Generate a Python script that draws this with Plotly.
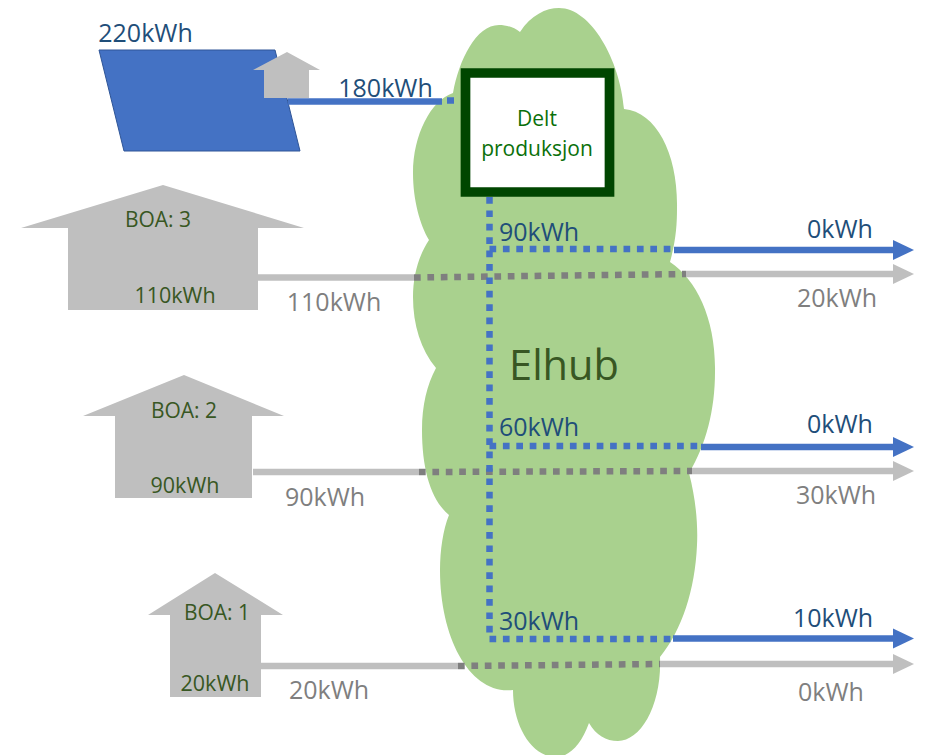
import plotly.graph_objects as go

BLUE = "#4472C4"
GREY = "#BFBFBF"
DOT_GREY = "#7F7F7F"
NAVY = "#1F4E79"
DGREEN = "#385723"
MID_GREY = "#7F7F7F"
BOX_TEXT = "#0A700A"

# text labels
label_text = ["220kWh", "180kWh", "BOA: 3", "110kWh", "110kWh", "BOA: 2", "90kWh", "90kWh",
              "BOA: 1", "20kWh", "20kWh", "90kWh", "0kWh", "20kWh", "60kWh", "0kWh", "30kWh",
              "30kWh", "10kWh", "0kWh", "Delt", "produksjon", "Elhub"]
label_x = [145.5, 385.5, 158, 175, 334, 184, 185, 325, 217, 215, 329, 539, 840, 837, 539, 840, 836, 539, 833, 831, 537, 537, 564]
label_y = [36, 91, 222, 298, 305, 413, 488, 500, 615, 686, 693, 235, 232, 301, 430, 427, 498, 624, 621, 695, 121, 151, 370]
label_color = [NAVY, NAVY, DGREEN, DGREEN, MID_GREY, DGREEN, DGREEN, MID_GREY, DGREEN, DGREEN, MID_GREY,
               NAVY, NAVY, MID_GREY, NAVY, NAVY, MID_GREY, NAVY, NAVY, MID_GREY, BOX_TEXT, BOX_TEXT, DGREEN]
label_size = [25, 25, 21, 21.5, 25, 21, 21.5, 25, 21, 21.5, 25, 25, 25, 25, 25, 25, 25, 25, 25, 25, 21, 21, 41.5]

# houses: apex x, apex y, eave left, eave right, eave y, body left, body right, bottom
houses = [
    (287, 52, 253, 320, 70, 264, 309, 98),
    (163, 185, 21, 304, 228, 68, 258, 310),
    (184, 375, 83, 284, 416, 115, 252, 498),
    (215, 573, 148, 283, 615, 170, 261, 697),
]
panel_x = [99, 275, 300, 124, 99]
panel_y = [50, 50, 151, 151, 50]

# grey feed-in: house edge, dotted start, dotted end, y at left, y at dotted end
grey_start = [258, 253, 261]
grey_dot_start = [414, 419, 458]
grey_dot_end = [686, 692, 660]
grey_y_left = [277.5, 472, 666]
grey_y_right = [274, 471, 664]

# blue branches
blue_y = [249, 446, 639]
blue_arrow_y = [250, 447, 638.5]
blue_dot_end = [674, 701, 673]
blue_x = 489.5
blue_top = 197
arrow_tip = 914
arrow_base = 893

cloud_path = (
    "M520,32 C531,15 546,8 559,8 C591,8 620,60 624,109 "
    "C657,112 678,155 677,208 C677,225 676,240 670,262 "
    "C697,280 716,320 715,372 C715,410 706,445 689,473 "
    "C696,500 698,525 697,545 C695,590 682,630 660,657 "
    "C662,705 641,741 618,741 C606,741 596,735 589,723 "
    "C581,745 569,757 556,757 C531,757 513,725 513,690 "
    "C471,695 440,640 440,570 C440,550 443,530 449,515 "
    "C431,500 422,470 422,430 C422,405 427,385 436,368 "
    "C421,350 413,325 413,297 C413,275 419,255 429,240 "
    "C420,225 413,200 413,173 C413,135 431,100 453,93 "
    "C459,60 476,25 499,25 C506,25 514,27 520,32 Z"
)

fig = go.Figure()

def poly(xs, ys, fill, line=None):
    fig.add_trace(go.Scatter(x=xs, y=ys, mode="lines", fill="toself", fillcolor=fill,
                             line=dict(color=line or fill, width=1 if line else 0), hoverinfo="skip"))

def seg(xs, ys, color, width=6.5, dash=None):
    fig.add_trace(go.Scatter(x=xs, y=ys, mode="lines", hoverinfo="skip",
                             line=dict(color=color, width=width, dash=dash)))

DOTS = "6.7px,6.7px"

poly(panel_x, panel_y, BLUE, "#2F5597")
seg([288, 442], [101.5, 101.5], BLUE)
seg([447, 454], [100.5, 100.5], BLUE)

for ax, ay, el, er, ey, bl, br, bot in houses:
    poly([ax, er, br, br, bl, bl, el, ax], [ay, ey, ey, bot, bot, ey, ey, ay], GREY)

for i in range(3):
    seg([grey_start[i], grey_dot_start[i]], [grey_y_left[i]] * 2, GREY)
    seg([grey_dot_end[i], arrow_base], [grey_y_right[i]] * 2, GREY)
    poly([arrow_base, arrow_tip, arrow_base, arrow_base],
         [grey_y_right[i] - 10, grey_y_right[i], grey_y_right[i] + 10, grey_y_right[i] - 10], GREY)
    seg([blue_dot_end[i], arrow_base], [blue_arrow_y[i]] * 2, BLUE)
    poly([arrow_base, arrow_tip, arrow_base, arrow_base],
         [blue_arrow_y[i] - 10, blue_arrow_y[i], blue_arrow_y[i] + 10, blue_arrow_y[i] - 10], BLUE)
    seg([grey_dot_start[i], grey_dot_end[i]], [grey_y_left[i], grey_y_right[i]], DOT_GREY, dash=DOTS)

seg([blue_x, blue_x], [blue_top, blue_y[2]], BLUE, dash=DOTS)
for i in range(3):
    seg([blue_x, blue_dot_end[i]], [blue_y[i]] * 2, BLUE, dash=DOTS)

fig.add_trace(go.Scatter(x=label_x, y=label_y, mode="text", text=label_text, hoverinfo="skip",
                         textposition="middle center",
                         textfont=dict(family="Open Sans", color=label_color, size=label_size)))

fig.add_shape(type="path", path=cloud_path, fillcolor="#A9D18E", line=dict(width=0), layer="below")
fig.add_shape(type="rect", x0=465.5, x1=609.5, y0=73, y1=192, fillcolor="white",
              line=dict(color="#004600", width=9.7), layer="below")

fig.update_xaxes(range=[0, 927], visible=False, fixedrange=True)
fig.update_yaxes(range=[755, 0], visible=False, fixedrange=True)
fig.update_layout(width=927, height=755, margin=dict(l=0, r=0, t=0, b=0), showlegend=False,
                  paper_bgcolor="white", plot_bgcolor="white")

fig.write_html("out.html", config={"displayModeBar": False},
               post_script="document.body.style.margin='0';document.body.style.overflow='hidden';")
